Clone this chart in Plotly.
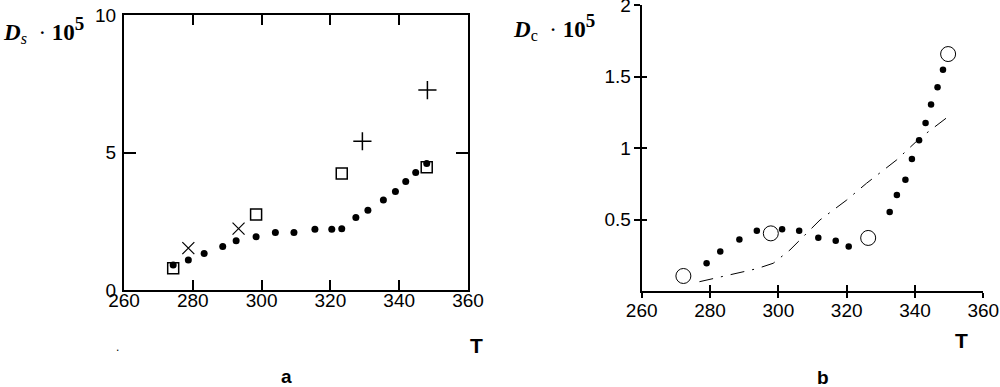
import plotly.graph_objects as go

# ---- panel a data ----
a_dot_T = [274.3, 278.7, 283.3, 288.7, 292.6, 298.4, 304.0, 309.4, 315.5, 320.4, 323.3,
           327.4, 330.9, 335.4, 338.9, 341.9, 344.8, 348.0]
a_dot_D = [0.91, 1.09, 1.33, 1.58, 1.79, 1.94, 2.09, 2.09, 2.21, 2.21, 2.23,
           2.64, 2.90, 3.27, 3.58, 3.95, 4.27, 4.60]
a_sq_T = [274.3, 298.4, 323.3, 348.0]
a_sq_D = [0.79, 2.75, 4.24, 4.46]
a_x_T = [278.7, 293.3]
a_x_D = [1.52, 2.23]
a_plus_T = [329.3, 348.2]
a_plus_D = [5.41, 7.27]

# ---- panel b data ----
b_dot_T = [279.0, 283.0, 288.6, 293.7, 301.1, 306.1, 311.7, 316.8, 320.6, 332.6, 334.7,
           337.2, 339.1, 341.2, 343.1, 344.7, 346.6, 348.2]
b_dot_D = [0.194, 0.277, 0.361, 0.422, 0.431, 0.422, 0.373, 0.352, 0.312, 0.552, 0.671,
           0.778, 0.923, 1.054, 1.175, 1.305, 1.424, 1.548]
b_circ_T = [272.2, 297.8, 326.3, 349.7]
b_circ_D = [0.105, 0.403, 0.371, 1.657]
b_line_T = [276.9, 282.9, 293.7, 298.5, 303.4, 312.2, 320.0, 325.8, 334.6, 341.4, 347.3, 349.7]
b_line_D = [0.065, 0.096, 0.156, 0.194, 0.287, 0.497, 0.636, 0.753, 0.916, 1.068, 1.173, 1.219]

x_ticks = [260, 280, 300, 320, 340, 360]
a_y_ticks = [0, 5, 10]
b_y_ticks = [0.5, 1, 1.5, 2]
b_y_ticklabels = ["0.5", "1", "1.5", "2"]

W, H = 1000, 387
def px(x):
    return x / W
def py(y):
    return 1 - y / H

tickfont = dict(family="Liberation Sans", size=19, color="black")

fig = go.Figure()

# panel a
fig.add_trace(go.Scatter(x=a_dot_T, y=a_dot_D, mode="markers", xaxis="x", yaxis="y",
                         marker=dict(color="black", size=7, symbol="circle")))
fig.add_trace(go.Scatter(x=a_sq_T, y=a_sq_D, mode="markers", xaxis="x", yaxis="y",
                         marker=dict(color="black", size=11, symbol="square-open",
                                     line=dict(color="black", width=1.5))))
fig.add_trace(go.Scatter(x=a_x_T, y=a_x_D, mode="markers", xaxis="x", yaxis="y",
                         marker=dict(color="black", size=12, symbol="x-thin-open",
                                     line=dict(color="black", width=1.2))))
fig.add_trace(go.Scatter(x=a_plus_T, y=a_plus_D, mode="markers", xaxis="x", yaxis="y",
                         marker=dict(color="black", size=13, symbol="cross-thin-open",
                                     line=dict(color="black", width=1.5))))

# panel b
fig.add_trace(go.Scatter(x=b_line_T, y=b_line_D, mode="lines", xaxis="x2", yaxis="y2",
                         line=dict(color="black", width=1, dash="14px,8px,2px,8px")))
fig.add_trace(go.Scatter(x=b_dot_T, y=b_dot_D, mode="markers", xaxis="x2", yaxis="y2",
                         marker=dict(color="black", size=6.5, symbol="circle")))
fig.add_trace(go.Scatter(x=b_circ_T, y=b_circ_D, mode="markers", xaxis="x2", yaxis="y2",
                         marker=dict(color="black", size=15, symbol="circle-open",
                                     line=dict(color="black", width=1))))
# invisible trace to activate overlay axes (crossing ticks)
fig.add_trace(go.Scatter(x=[260], y=[0], mode="markers", xaxis="x3", yaxis="y3",
                         marker=dict(opacity=0), hoverinfo="skip"))

common = dict(showgrid=False, zeroline=False, automargin=False, tickcolor="black", tickwidth=1.5,
              ticklabeloverflow="allow")

fig.update_layout(
    template="none",
    width=W, height=H,
    margin=dict(l=0, r=0, t=0, b=0, autoexpand=False),
    paper_bgcolor="white", plot_bgcolor="white",
    showlegend=False,
    xaxis=dict(domain=[px(124), px(468)], range=[260, 360], anchor="y",
               tickvals=x_ticks, ticks="inside", ticklen=10,
               showline=True, linecolor="black", linewidth=2, mirror="allticks",
               tickfont=tickfont, ticklabelstandoff=-8, **common),
    yaxis=dict(domain=[py(290), py(15)], range=[0, 10], anchor="x",
               tickvals=a_y_ticks, ticks="inside", ticklen=12,
               showline=True, linecolor="black", linewidth=2, mirror="allticks",
               tickfont=tickfont, ticklabelstandoff=2, **common),
    xaxis2=dict(domain=[px(641.7), px(983.3)], range=[260, 360], anchor="y2",
                tickvals=x_ticks, ticks="outside", ticklen=5,
                showline=True, linecolor="black", linewidth=2,
                tickfont=tickfont, ticklabelstandoff=-4, **common),
    yaxis2=dict(domain=[py(291), py(5)], range=[0, 2], anchor="x2",
                tickvals=b_y_ticks, ticktext=b_y_ticklabels,
                ticks="outside", ticklen=6,
                showline=True, linecolor="black", linewidth=2,
                tickfont=tickfont, ticklabelstandoff=-1, **common),
    xaxis3=dict(domain=[px(641.7), px(983.3)], range=[260, 360], anchor="y3", overlaying="x2",
                tickvals=x_ticks, ticks="inside", ticklen=6,
                showticklabels=False, showline=False, **common),
    yaxis3=dict(domain=[py(291), py(5)], range=[0, 2], anchor="x3", overlaying="y2",
                tickvals=[0] + b_y_ticks, ticks="inside", ticklen=5,
                showticklabels=False, showline=False, **common),
)

lab = dict(family="Liberation Serif", size=23, color="black")
fig.add_annotation(x=px(1), y=py(30), xref="paper", yref="paper", xanchor="left", yanchor="middle",
                   showarrow=False, font=lab,
                   text="<b><i>D</i></b><sub><i>s</i></sub>&nbsp;&nbsp;·&nbsp;<b>10</b><sup><b><span style='font-size:19px'>5</span></b></sup>")
fig.add_annotation(x=px(511), y=py(27), xref="paper", yref="paper", xanchor="left", yanchor="middle",
                   showarrow=False, font=lab,
                   text="<b><i>D</i></b><sub>c</sub>&nbsp;&nbsp;·&nbsp;<b>10</b><sup><b><span style='font-size:19px'>5</span></b></sup>")
tfont = dict(family="Liberation Sans", size=21, color="black")
fig.add_annotation(x=px(476), y=py(345), xref="paper", yref="paper", xanchor="center", yanchor="middle",
                   showarrow=False, font=tfont, text="<b>T</b>")
fig.add_annotation(x=px(961), y=py(340), xref="paper", yref="paper", xanchor="center", yanchor="middle",
                   showarrow=False, font=tfont, text="<b>T</b>")
fig.add_annotation(x=px(286), y=py(376), xref="paper", yref="paper", xanchor="center", yanchor="middle",
                   showarrow=False, font=dict(family="Liberation Sans", size=19, color="black"), text="<b>a</b>")
fig.add_annotation(x=px(823), y=py(377), xref="paper", yref="paper", xanchor="center", yanchor="middle",
                   showarrow=False, font=dict(family="Liberation Sans", size=19, color="black"), text="<b>b</b>")
fig.add_annotation(x=px(117), y=py(347), xref="paper", yref="paper", xanchor="center", yanchor="middle",
                   showarrow=False, font=dict(family="Liberation Sans", size=12, color="black"), text=".")

fig.write_html("out.html", config={"displayModeBar": False},
               post_script="document.body.style.margin='0';document.body.style.overflow='hidden';")
